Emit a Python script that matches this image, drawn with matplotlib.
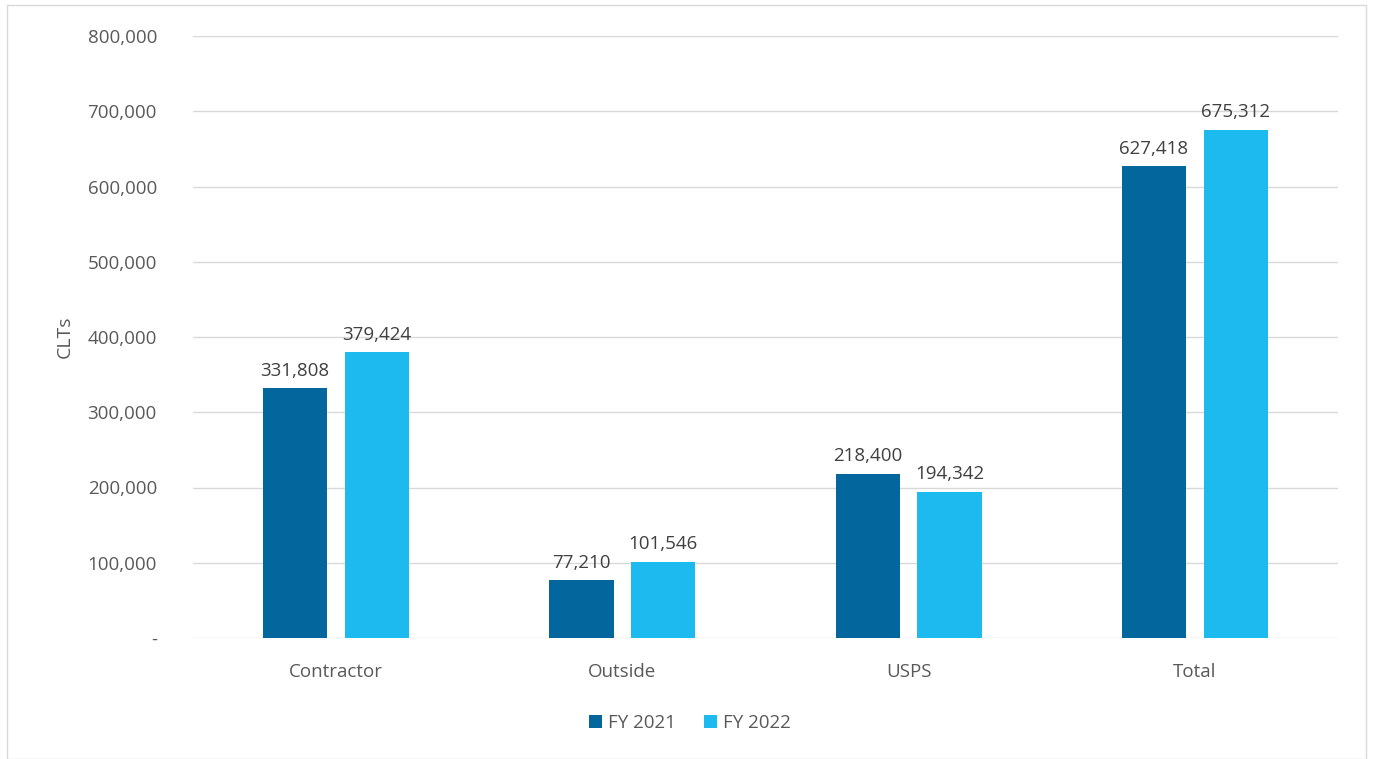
import matplotlib.pyplot as plt
from matplotlib.patches import Rectangle
from matplotlib.ticker import FuncFormatter
import numpy as np

categories = ['Contractor', 'Outside', 'USPS', 'Total']
fy2021 = [331808, 77210, 218400, 627418]
fy2022 = [379424, 101546, 194342, 675312]
series_names = ['FY 2021', 'FY 2022']

dark = '#03679E'
light = '#1CBAEE'
txt = '#595959'

plt.rcParams['font.family'] = ['Open Sans', 'DejaVu Sans']

fig = plt.figure(figsize=(13.73, 7.59), dpi=100)
ax = fig.add_axes([193 / 1373, 1 - 638 / 759, (1338 - 193) / 1373, (638 - 36) / 759])

x = np.arange(len(categories))
w = 0.224
off = 0.143
b1 = ax.bar(x - off, fy2021, w, color=dark, label=series_names[0], zorder=3)
b2 = ax.bar(x + off, fy2022, w, color=light, label=series_names[1], zorder=3)

for bars, vals in ((b1, fy2021), (b2, fy2022)):
    for r, v in zip(bars, vals):
        ax.annotate(f'{v:,}', (r.get_x() + r.get_width() / 2, v), xytext=(0, 6),
                    textcoords='offset points', ha='center', va='bottom',
                    fontsize=13.5, color='#404040')

ax.set_xlim(-0.5, 3.5)
ax.set_ylim(0, 800000)
ax.set_yticks(np.arange(0, 800001, 100000))
ax.yaxis.set_major_formatter(FuncFormatter(lambda v, p: '-' if v == 0 else f'{int(v):,}'))
ax.set_xticks(x)
ax.set_xticklabels(categories)
ax.tick_params(length=0, labelsize=13.5, colors=txt)
ax.tick_params(axis='y', pad=26)
ax.tick_params(axis='x', pad=18)
ax.grid(axis='y', color='#D9D9D9', linewidth=1, zorder=0)
for s in ax.spines.values():
    s.set_visible(False)
ax.set_ylabel('CLTs', fontsize=14, color=txt, labelpad=10)

ax.legend(loc='center', bbox_to_anchor=(0.434, -0.141), ncol=2, frameon=False,
          fontsize=13.5, labelcolor=txt, handlelength=0.7, handleheight=0.7,
          handletextpad=0.3, columnspacing=1.5)

fig.patches.append(Rectangle((7 / 1373, 0), (1366 - 7) / 1373, 1 - 5 / 759,
                             transform=fig.transFigure, fill=False,
                             edgecolor='#D9D9D9', linewidth=1))

fig.savefig('out.png', dpi=100)
